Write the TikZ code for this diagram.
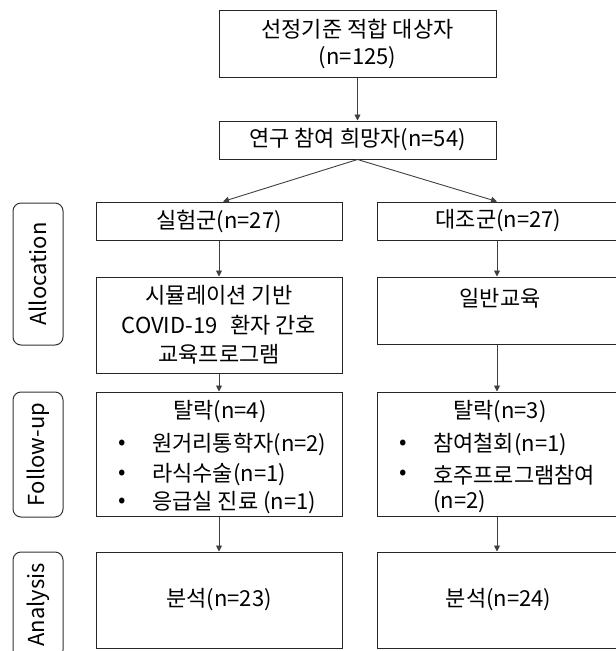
\documentclass[tikz,border=0pt]{standalone}
\usepackage{fontspec}
\setmainfont{Noto Sans CJK KR}
\usetikzlibrary{arrows.meta}

\begin{document}
\begin{tikzpicture}[x=1pt,y=-1pt,
  box/.style={draw=black!85, line width=1pt, rectangle, inner sep=0pt, align=center,
    font=\fontsize{22}{28}\selectfont},
  phase/.style={draw=black!80, line width=1pt, rounded corners=8pt, inner sep=0pt,
    font=\fontsize{22}{26}\selectfont},
  txt/.style={inner sep=0pt, font=\fontsize{22}{26}\selectfont},
  conn/.style={draw=black!75, line width=0.9pt, -{Triangle[length=6pt,width=6pt]}},
]
\useasboundingbox (0,0) rectangle (616,651);
\clip (0,0) rectangle (616,651);

% phase labels on the left
\node[phase, rotate=90, minimum width=142pt, minimum height=50pt] (alloc) at (38,274) {Allocation};
\node[phase, rotate=90, minimum width=125pt, minimum height=50pt] (follow) at (38,454.5) {Follow-up};
\node[phase, rotate=90, minimum width=106pt, minimum height=50pt] (anal) at (38,605) {Analysis};

% enrolment
\node[box, minimum width=277pt, minimum height=67pt, font=\fontsize{22}{27}\selectfont] (elig) at (357.5,43.5)
  {선정기준 적합 대상자\\(n=125)};
\node[box, minimum width=277pt, minimum height=38pt] (vol) at (357.5,140) {연구 참여 희망자(n=54)};

% allocation
\node[box, minimum width=246pt, minimum height=38pt] (exp) at (219,221) {실험군(n=27)};
\node[box, minimum width=243pt, minimum height=38pt] (ctl) at (498.5,221) {대조군(n=27)};

\node[box, minimum width=246pt, minimum height=96pt, font=\fontsize{22}{29.5}\selectfont] (expprog) at (219,325)
  {시뮬레이션 기반\\COVID-19\hspace{0.35em} 환자 간호\\교육프로그램};
\node[box, minimum width=243pt, minimum height=67pt] (ctlprog) at (498.5,310.5) {};
\node[txt] (ctlprogtext) at (500,298) {일반교육};

% follow-up
\node[box, minimum width=246pt, minimum height=124pt] (expfu) at (219,454) {};
\node[txt] (expdrop) at (220,412) {탈락(n=4)};
\node[txt] (eb1) at (122,445) {•};
\node[txt, anchor=west] (ei1) at (152,445) {원거리통학자(n=2)};
\node[txt] (eb2) at (122,475) {•};
\node[txt, anchor=west] (ei2) at (152,475) {라식수술(n=1)};
\node[txt] (eb3) at (122,503) {•};
\node[txt, anchor=west] (ei3) at (152,503) {응급실 진료 (n=1)};

\node[box, minimum width=243pt, minimum height=124pt] (ctlfu) at (498.5,454) {};
\node[txt] (ctldrop) at (500,412) {탈락(n=3)};
\node[txt] (cb1) at (403,445) {•};
\node[txt, anchor=west] (ci1) at (433,445) {참여철회(n=1)};
\node[txt] (cb2) at (403,475) {•};
\node[txt, anchor=west] (ci2) at (433,475) {호주프로그램참여};
\node[txt, anchor=west] (ci2b) at (433,502) {(n=2)};

% analysis
\node[box, minimum width=246pt, minimum height=96pt] (expan) at (219,600) {분석(n=23)};
\node[box, minimum width=243pt, minimum height=96pt] (ctlan) at (498.5,600) {분석(n=24)};

% connectors
\draw[conn] (elig) -- (vol);
\draw[conn] (vol.south) -- ([xshift=4pt]exp.north);
\draw[conn] (vol.south) -- ([xshift=-1.5pt]ctl.north);
\draw[conn] (exp) -- (expprog);
\draw[conn] ([xshift=-1.5pt]ctl.south) -- ([xshift=-1.5pt]ctlprog.north);
\draw[conn] (expprog) -- (expfu);
\draw[conn] ([xshift=-1.5pt]ctlprog.south) -- ([xshift=-1.5pt]ctlfu.north);
\draw[conn] (expfu) -- (expan);
\draw[conn] ([xshift=-1.5pt]ctlfu.south) -- ([xshift=-1.5pt]ctlan.north);
\end{tikzpicture}
\end{document}
